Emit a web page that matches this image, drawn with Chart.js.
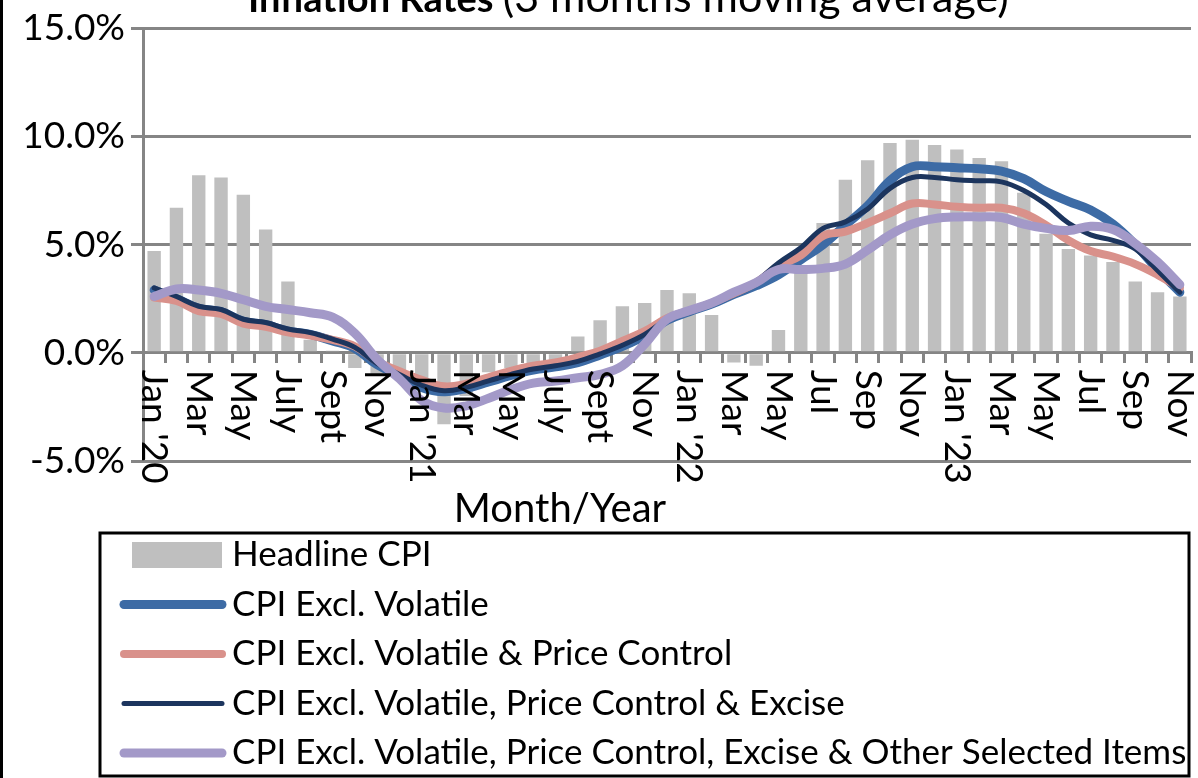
<!DOCTYPE html>
<html>
<head>
<meta charset="utf-8">
<title>Inflation Rates</title>
<script src="https://cdn.jsdelivr.net/npm/chart.js@4.4.1/dist/chart.umd.min.js"></script>
<style>
  body { margin: 0; background: #fff; }
  canvas { display: block; }
</style>
</head>
<body>
<canvas id="chart" width="1198" height="778"></canvas>
<script>
// months Jan 2020 .. Nov 2023, only every other one gets a label
const tickLabels = [
  "Jan '20", "", "Mar", "", "May", "", "July", "", "Sept", "", "Nov", "",
  "Jan '21", "", "Mar", "", "May", "", "July", "", "Sept", "", "Nov", "",
  "Jan '22", "", "Mar", "", "May", "", "Jul", "", "Sep", "", "Nov", "",
  "Jan '23", "", "Mar", "", "May", "", "Jul", "", "Sep", "", "Nov"
];

const seriesNames = [
  "Headline CPI",
  "CPI Excl. Volatile",
  "CPI Excl. Volatile & Price Control",
  "CPI Excl. Volatile, Price Control & Excise",
  "CPI Excl. Volatile, Price Control, Excise & Other Selected Items"
];

const headlineCPI = [
  4.7, 6.7, 8.2, 8.1, 7.3, 5.7, 3.3, 0.6, 0.1, -0.7, -1.0, -0.9,
  -1.5, -3.3, -2.0, -0.9, -0.7, -0.5, -0.35, 0.75, 1.5, 2.15, 2.3, 2.9,
  2.75, 1.75, -0.45, -0.6, 1.05, 3.9, 6.0, 8.0, 8.9, 9.7, 9.85, 9.6,
  9.4, 9.0, 8.85, 7.4, 5.5, 4.8, 4.5, 4.2, 3.3, 2.8, 2.6
];

const exclVolatile = [
  2.9, 2.5, 2.05, 1.9, 1.45, 1.3, 1.0, 0.85, 0.55, 0.2, -0.55, -1.05,
  -1.6, -1.8, -1.65, -1.35, -1.05, -0.8, -0.65, -0.45, -0.1, 0.3, 0.8, 1.5,
  1.9, 2.25, 2.7, 3.1, 3.6, 4.3, 5.0, 5.9, 6.8, 7.95, 8.6, 8.6,
  8.55, 8.5, 8.4, 8.05, 7.45, 7.0, 6.6, 5.95, 5.0, 3.85, 2.8
];

const exclPriceControl = [
  2.55, 2.4, 1.93, 1.8, 1.35, 1.2, 0.95, 0.8, 0.6, 0.3, -0.4, -0.85,
  -1.25, -1.55, -1.43, -1.13, -0.83, -0.6, -0.45, -0.2, 0.1, 0.55, 1.0, 1.6,
  1.95, 2.3, 2.75, 3.25, 4.0, 4.5, 5.4, 5.6, 6.0, 6.45, 6.9, 6.85,
  6.75, 6.7, 6.7, 6.45, 5.9, 5.2, 4.7, 4.45, 4.1, 3.6, 3.0
];

const exclExcise = [
  3.0, 2.6, 2.15, 2.0, 1.55, 1.4, 1.1, 0.93, 0.63, 0.25, -0.5, -1.0,
  -1.5, -1.75, -1.6, -1.3, -1.0, -0.75, -0.6, -0.4, -0.05, 0.35, 0.85, 1.55,
  1.95, 2.3, 2.75, 3.3, 4.15, 4.85, 5.75, 6.05, 6.65, 7.6, 8.1, 8.1,
  8.0, 7.95, 7.9, 7.5, 6.85, 6.0, 5.45, 5.2, 4.8, 3.8, 2.8
];

const exclOther = [
  2.6, 2.95, 2.9, 2.75, 2.45, 2.15, 2.0, 1.85, 1.65, 0.9, -0.3, -1.2,
  -2.2, -2.55, -2.45, -2.1, -1.7, -1.4, -1.3, -1.15, -1.0, -0.6, 0.4, 1.55,
  1.95, 2.3, 2.8, 3.25, 3.85, 3.85, 3.9, 4.1, 4.75, 5.45, 5.95, 6.2,
  6.28, 6.28, 6.25, 5.95, 5.75, 5.65, 5.85, 5.7, 5.05, 4.2, 3.15
];

const FONT = "Lato, 'Open Sans', sans-serif";
const GRID = "#858585";

function lineSet(label, data, color, width, order) {
  return {
    type: "line",
    label: label,
    data: data,
    borderColor: color,
    backgroundColor: color,
    borderWidth: width,
    pointRadius: 0,
    tension: 0.4,
    borderCapStyle: "round",
    borderJoinStyle: "round",
    order: order
  };
}

// **Labels, titles and boxed legend drawn straight on the canvas**
const decorations = {
  id: "decorations",
  afterDraw(chart) {
    const ctx = chart.ctx;
    const xs = chart.scales.x, ys = chart.scales.y;
    const zeroY = ys.getPixelForValue(0);
    ctx.save();
    ctx.fillStyle = "#000";

    // month labels, turned clockwise, hanging under the 0% line
    ctx.font = "37px " + FONT;
    ctx.textAlign = "left";
    ctx.textBaseline = "middle";
    tickLabels.forEach((lab, i) => {
      if (!lab) return;
      ctx.save();
      ctx.translate(xs.getPixelForValue(i), zeroY + 17);
      ctx.rotate(Math.PI / 2);
      ctx.fillText(lab, 0, 0);
      ctx.restore();
    });

    // axis title
    ctx.font = "40px " + FONT;
    ctx.textAlign = "center";
    ctx.textBaseline = "alphabetic";
    ctx.fillText("Month/Year", 560, 522);

    // chart title (top is cut off in the original)
    const boldPart = "Inflation Rates ";
    const normPart = "(3 months moving average)";
    ctx.textAlign = "left";
    ctx.font = "bold 38px " + FONT;
    const wb = ctx.measureText(boldPart).width;
    ctx.fillText(boldPart, 248, 12);
    ctx.font = "43px " + FONT;
    ctx.fillText(normPart, 248 + wb, 12);

    // legend box
    ctx.strokeStyle = "#000";
    ctx.lineWidth = 3;
    ctx.strokeRect(100, 533, 1089, 243);
    ctx.font = "35px " + FONT;
    ctx.textBaseline = "middle";
    chart.data.datasets.forEach((ds, k) => {
      const ry = 555 + k * 49.5;
      if (ds.type === "line") {
        ctx.beginPath();
        ctx.strokeStyle = ds.borderColor;
        ctx.lineWidth = ds.borderWidth;
        ctx.lineCap = "round";
        ctx.moveTo(124, ry);
        ctx.lineTo(222, ry);
        ctx.stroke();
      } else {
        ctx.fillStyle = ds.backgroundColor;
        ctx.fillRect(132, ry - 13, 90, 26);
      }
      ctx.fillStyle = "#000";
      ctx.fillText(ds.label, 232, ry);
    });

    // outer frame edge on the left
    ctx.fillRect(0, 0, 3, 778);
    ctx.restore();
  }
};

const ctx = document.getElementById("chart").getContext("2d");
new Chart(ctx, {
  type: "bar",
  data: {
    labels: tickLabels,
    datasets: [
      {
        type: "bar",
        label: seriesNames[0],
        data: headlineCPI,
        backgroundColor: "#BFBFBF",
        borderWidth: 0,
        categoryPercentage: 1,
        barPercentage: 0.6,
        order: 10
      },
      lineSet(seriesNames[1], exclVolatile, "#3D6BA5", 9, 4),
      lineSet(seriesNames[2], exclPriceControl, "#D9918B", 8, 3),
      lineSet(seriesNames[3], exclExcise, "#1C355E", 5, 2),
      lineSet(seriesNames[4], exclOther, "#A399C8", 9, 1)
    ]
  },
  options: {
    responsive: false,
    animation: false,
    layout: { padding: { top: 26, right: 7, bottom: 317, left: 0 } },
    plugins: {
      legend: { display: false },
      tooltip: { enabled: false },
      title: { display: false }
    },
    scales: {
      x: {
        position: { y: 0 },
        offset: true,
        ticks: { display: false },
        grid: {
          drawOnChartArea: false,
          drawTicks: true,
          tickLength: 9,
          offset: true,
          color: GRID,
          lineWidth: 3
        },
        border: { display: true, color: GRID, width: 3 }
      },
      y: {
        min: -5,
        max: 15,
        ticks: {
          stepSize: 5,
          padding: 6,
          color: "#000",
          font: { family: FONT, size: 37 },
          callback: (v) => v.toFixed(1) + "%"
        },
        grid: { color: GRID, lineWidth: 3, drawTicks: true, tickLength: 12 },
        border: { display: true, color: GRID, width: 3 },
        afterFit: (s) => { s.width = 143; }
      }
    }
  },
  plugins: [decorations]
});
</script>
</body>
</html>
